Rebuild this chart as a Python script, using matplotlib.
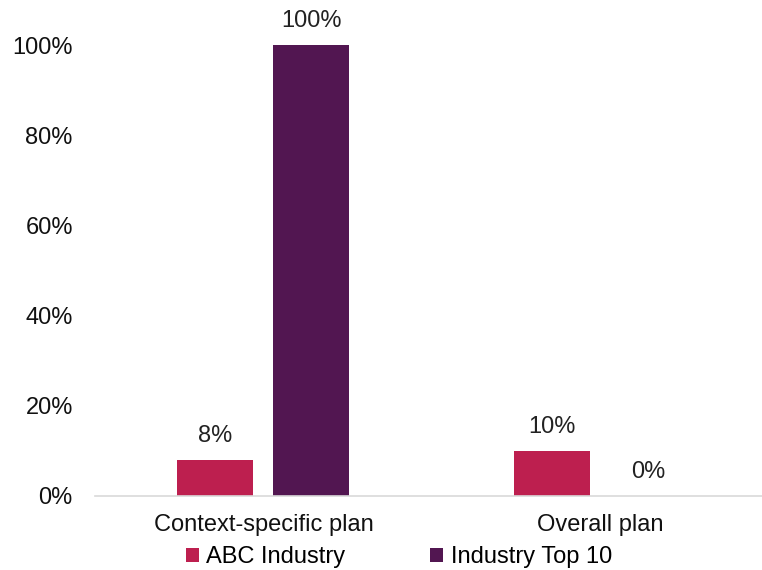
import matplotlib.pyplot as plt
import matplotlib.ticker as ticker
import numpy as np

plt.rcParams['font.family'] = ['Liberation Sans', 'DejaVu Sans']

categories = ['Context-specific plan', 'Overall plan']
series_names = ['ABC Industry', 'Industry Top 10']
abc_values = [8, 10]
top10_values = [100, 0]
colors = ['#BD1F4F', '#521651']

fontsz = 17
bar_w = 0.2255
offset = 0.1424

fig = plt.figure(figsize=(7.62, 5.70), dpi=100)
ax = fig.add_axes([95 / 762, 1 - 496 / 570, 1 - 95 / 762, (496 - 45) / 570])

x = np.arange(len(categories))
for vals, name, col, sgn in zip([abc_values, top10_values], series_names, colors, [-1, 1]):
    bars = ax.bar(x + sgn * offset, vals, bar_w, color=col, label=name, zorder=2)
    for b, v in zip(bars, vals):
        ax.annotate('%d%%' % v, (b.get_x() + b.get_width() / 2, v),
                    xytext=(0, 13), textcoords='offset pixels',
                    ha='center', va='bottom', fontsize=fontsz, color='#222222',
                    annotation_clip=False)

ax.set_xlim(-0.5, 1.48)
ax.set_ylim(0, 100)
ax.yaxis.set_major_locator(ticker.MultipleLocator(20))
ax.yaxis.set_major_formatter(ticker.FuncFormatter(lambda v, p: '%d%%' % v))
ax.set_xticks(x)
ax.set_xticklabels(categories)
ax.tick_params(axis='both', length=0, labelsize=fontsz, colors='#111111')
ax.tick_params(axis='y', pad=16)
ax.tick_params(axis='x', pad=13)

for s in ('top', 'right', 'left'):
    ax.spines[s].set_visible(False)
ax.spines['bottom'].set_color('#D9D9D9')
ax.spines['bottom'].set_linewidth(1.2)

leg = fig.legend(loc='center', bbox_to_anchor=(399 / 762, 1 - 557 / 570), ncol=2,
                 frameon=False, fontsize=fontsz, handlelength=0.55, handleheight=0.55,
                 handletextpad=0.3, columnspacing=3.6)

fig.savefig('out.png', dpi=100)
